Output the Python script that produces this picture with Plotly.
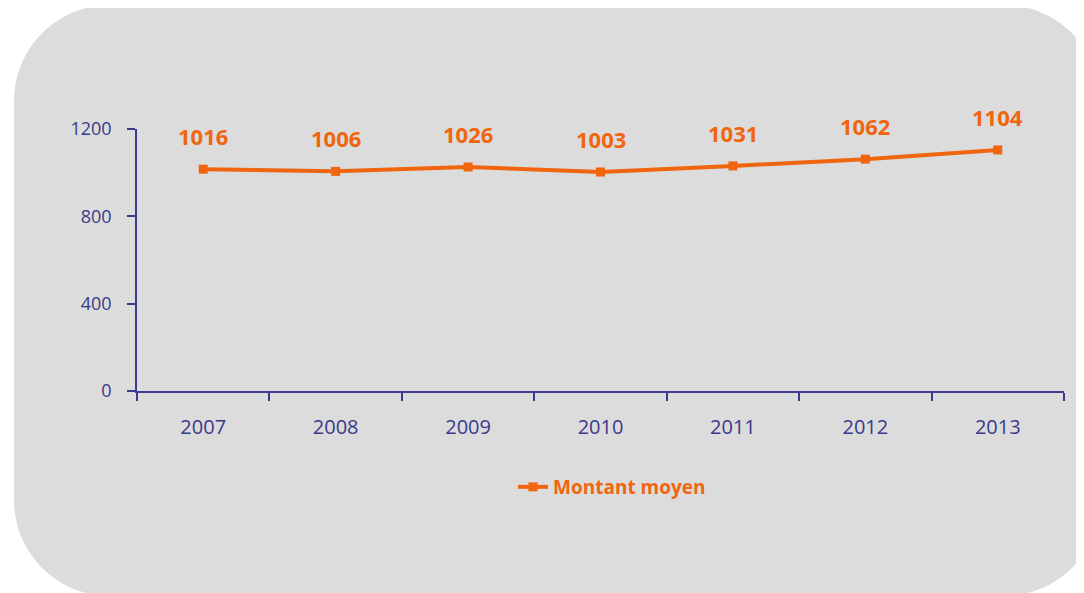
import plotly.graph_objects as go

years = ["2007", "2008", "2009", "2010", "2011", "2012", "2013"]
montant_moyen = [1016, 1006, 1026, 1003, 1031, 1062, 1104]
y_ticks = [0, 400, 800, 1200]

ORANGE = "#F0650E"
NAVY = "#3A3A8C"
GRAY = "#DCDCDC"

OFF = 8  # page body margin
W, H = 1084, 593
L, R, T, B = 137 - OFF, 1064 - OFF, 129 - OFF, 391 - OFF  # plot area in figure pixels


def px(x):
    return (x - OFF - L) / (R - L)


def py(y):
    return (B - (y - OFF)) / (B - T)


def rounded_rect(x0, y0, x1, y1, r):
    k = 0.5523
    pts = []
    pts.append(f"M {px(x0 + r)} {py(y0)}")
    pts.append(f"L {px(x1 - r)} {py(y0)}")
    pts.append(f"C {px(x1 - r + r*k)} {py(y0)} {px(x1)} {py(y0 + r - r*k)} {px(x1)} {py(y0 + r)}")
    pts.append(f"L {px(x1)} {py(y1 - r)}")
    pts.append(f"C {px(x1)} {py(y1 - r + r*k)} {px(x1 - r + r*k)} {py(y1)} {px(x1 - r)} {py(y1)}")
    pts.append(f"L {px(x0 + r)} {py(y1)}")
    pts.append(f"C {px(x0 + r - r*k)} {py(y1)} {px(x0)} {py(y1 - r + r*k)} {px(x0)} {py(y1 - r)}")
    pts.append(f"L {px(x0)} {py(y0 + r)}")
    pts.append(f"C {px(x0)} {py(y0 + r - r*k)} {px(x0 + r - r*k)} {py(y0)} {px(x0 + r)} {py(y0)}")
    pts.append("Z")
    return " ".join(pts)


fig = go.Figure()
fig.add_trace(go.Scatter(
    x=years, y=montant_moyen, mode="lines+markers",
    name="Montant moyen",
    line=dict(color=ORANGE, width=4),
    marker=dict(symbol="square", size=9, color=ORANGE),
    cliponaxis=False,
))

for i, v in enumerate(montant_moyen):
    fig.add_annotation(x=i, y=v, text=str(v), showarrow=False, yshift=33,
                       font=dict(family="Open Sans", size=22, color=ORANGE, weight="bold"))

fig.add_shape(type="path", xref="paper", yref="paper",
              path=rounded_rect(14, 5, 1100, 596, 96),
              fillcolor=GRAY, line=dict(width=0), layer="below")

fig.update_layout(
    width=W, height=H,
    margin=dict(l=L, r=W - R, t=T, b=H - B),
    paper_bgcolor="white",
    plot_bgcolor="rgba(0,0,0,0)",
    showlegend=True,
    legend=dict(orientation="h", x=px(612), xanchor="center", y=py(487), yanchor="middle",
                font=dict(family="Open Sans", size=19, color=ORANGE, weight="bold"),
                bgcolor="rgba(0,0,0,0)"),
    font=dict(family="Open Sans"),
)
fig.update_xaxes(
    type="category", range=[-0.5, 6.5], showgrid=False, zeroline=False,
    showline=True, linecolor=NAVY, linewidth=1.5,
    ticks="outside", tickson="boundaries", ticklen=8, tickcolor=NAVY, tickwidth=1.5,
    tickfont=dict(size=20, color=NAVY), ticklabelstandoff=17,
)
fig.update_yaxes(
    range=[0, 1200], tickvals=y_ticks, showgrid=False, zeroline=False,
    showline=True, linecolor=NAVY, linewidth=1.5,
    ticks="outside", ticklen=8, tickcolor=NAVY, tickwidth=1.5,
    tickfont=dict(size=18, color=NAVY), ticklabelstandoff=12,
)

fig.write_html("out.html")
